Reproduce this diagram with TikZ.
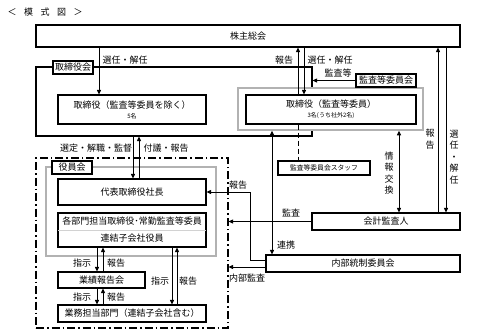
\documentclass[tikz,border=0pt]{standalone}
\usepackage{fontspec}
\setmainfont{Noto Sans CJK JP}
\usetikzlibrary{arrows.meta,calc}
\newcommand{\myfs}{\fontsize{9}{11}\selectfont}
\newcommand{\mysm}{\fontsize{6}{7}\selectfont}
\begin{document}
\begin{tikzpicture}[x=1pt,y=-1pt,
  box/.style={draw, line width=1.1pt, fill=white, inner sep=0pt, font=\myfs},
  gbox/.style={draw=gray!60, line width=1.5pt, fill=white, inner sep=0pt},
  lab/.style={inner sep=0.5pt, font=\myfs},
  vlab/.style={inner sep=0.5pt, align=center, font=\fontsize{9}{11.5}\selectfont},
  arr/.style={line width=0.9pt, -{Triangle[length=4.5pt,width=4pt]}},
  darr/.style={line width=0.9pt, {Triangle[length=4.5pt,width=4pt]}-{Triangle[length=4.5pt,width=4pt]}},
  ddash/.style={draw, line width=1.1pt, dash pattern=on 8pt off 3pt on 1.5pt off 3pt},
]
\useasboundingbox (0,0) rectangle (493,335);
\fill[white] (0,0) rectangle (493,335);

% x positions of connectors
\coordinate (xa) at (99,0);
\coordinate (xb) at (298,0);
\coordinate (xc) at (304,0);
\coordinate (xd) at (438,0);
\coordinate (xe) at (446,0);
\coordinate (xf) at (399,0);
\coordinate (xg) at (272,0);
\coordinate (xh) at (133,0);
\coordinate (xi) at (139,0);
\coordinate (xj) at (250,0);
\coordinate (xk) at (97,0);
\coordinate (xl) at (103,0);
\coordinate (xm) at (172,0);
\coordinate (xn) at (177,0);

\node[lab, anchor=west] (title) at (7,12) {＜\hspace{7.5pt}模\hspace{7.5pt}式\hspace{7.5pt}図\hspace{7.5pt}＞};

% top part
\node[box, minimum width=424pt, minimum height=22pt] (kabu) at (248,36) {株主総会};
\node[box, minimum width=276pt, minimum height=69pt] (trkai) at (174,101.5) {};
\node[gbox, minimum width=185pt, minimum height=42pt] (grayA) at (330.5,109) {};
\node[box, minimum width=40pt, minimum height=13pt] (trkaiL) at (73,67.5) {取締役会};
\node[box, minimum width=60pt, minimum height=13pt] (kansaL) at (386,80.5) {監査等委員会};
\node[box, align=center, minimum width=170pt, minimum height=29pt] (trA) at (331,109.5) {取締役（監査等委員）\\[-1pt]{\mysm 3名(うち社外2名)}};
\node[box, align=center, minimum width=148pt, minimum height=29pt] (trB) at (132,109.5) {取締役（監査等委員を除く）\\[-1pt]{\mysm 5名}};
\node[box, minimum width=92pt, minimum height=14pt, font=\fontsize{6.8}{8}\selectfont] (staff) at (324,168) {監査等委員会スタッフ};
\node[box, minimum width=148pt, minimum height=17pt] (kaikei) at (386,221.5) {会計監査人};
\node[box, minimum width=194pt, minimum height=17pt] (naibu) at (363,263.5) {内部統制委員会};

% lower-left part
\node[ddash, minimum width=192pt, minimum height=170pt, inner sep=0pt] (dbox) at (132,243) {};
\node[gbox, minimum width=170pt, minimum height=89pt] (yakuin) at (131,211.5) {};
\node[box, minimum width=40pt, minimum height=13pt] (yakuinL) at (72,167.5) {役員会};
\node[box, minimum width=148pt, minimum height=26pt] (daihyo) at (132,192) {代表取締役社長};
\node[box, minimum width=148pt, minimum height=34pt] (kakubu) at (132,230) {};
\draw[gray!35, line width=0.8pt] ([xshift=0.6pt]kakubu.west) -- ([xshift=-0.6pt]kakubu.east);
\node[lab] (kakubuA) at (132,221.5) {各部門担当取締役･常勤監査等委員};
\node[lab] (kakubuB) at (132,238.5) {連結子会社役員};
\node[box, minimum width=87pt, minimum height=16pt] (gyoseki) at (101.5,280) {業績報告会};
\node[box, minimum width=148pt, minimum height=17pt] (gyomu) at (132,313.5) {業務担当部門（連結子会社含む）};

% connectors
\draw[arr] (kabu.south -| xa) -- (trB.north -| xa);
\draw[arr] (trA.north -| xb) -- (kabu.south -| xb);
\draw[arr] (kabu.south -| xc) -- (trA.north -| xc);
\draw[arr] (kansaL.west) -- (kansaL.west -| trkai.east);
\draw[arr] (kaikei.north -| xd) -- (kabu.south -| xd);
\draw[arr] (kabu.south -| xe) -- (kaikei.north -| xe);
\draw[darr] (grayA.south -| xf) -- (kaikei.north -| xf);
\draw[line width=0.9pt, dashed, dash pattern=on 5pt off 3pt] (trA.south -| xb) -- (staff.north -| xb);
\draw[darr] (grayA.south -| xg) -- (naibu.north -| xg);
\draw[arr] (trkai.south -| xh) -- (daihyo.north -| xh);
\draw[arr] (daihyo.north -| xi) -- (trkai.south -| xi);
\draw[arr] ([yshift=3.5pt]naibu.west) -| (xj |- daihyo.east) -- (daihyo.east);
\draw[arr] (kaikei.west) -- (kaikei.west -| dbox.east);
\draw[arr] ([yshift=-3.5pt]naibu.west) -- ([yshift=-3.5pt]naibu.west -| dbox.east);
\draw[arr] (kakubu.south -| xk) -- (gyoseki.north -| xk);
\draw[arr] (gyoseki.north -| xl) -- (kakubu.south -| xl);
\draw[arr] (gyoseki.south -| xk) -- (gyomu.north -| xk);
\draw[arr] (gyomu.north -| xl) -- (gyoseki.south -| xl);
\draw[arr] (kakubu.south -| xm) -- (gyomu.north -| xm);
\draw[arr] (gyomu.north -| xn) -- (kakubu.south -| xn);

% labels
\node[lab] (l1) at (125,60) {選任・解任};
\node[lab] (l2) at (284,60) {報告};
\node[lab] (l3) at (330,60) {選任・解任};
\node[lab] (l4) at (338,73) {監査等};
\node[lab] (l5) at (96,148) {選定・解職・監督};
\node[lab] (l6) at (166,148) {付議・報告};
\node[lab] (l7) at (238,185) {報告};
\node[lab] (l8) at (291,213) {監査};
\node[lab] (l9) at (286,245) {連携};
\node[lab] (l10) at (247,278) {内部監査};
\node[lab] (l11) at (82,263) {指示};
\node[lab] (l12) at (116,263) {報告};
\node[lab] (l13) at (82,297) {指示};
\node[lab] (l14) at (116,297) {報告};
\node[lab] (l15) at (160,281) {指示};
\node[lab] (l16) at (188,281) {報告};
\node[vlab] (v1) at (389,173) {情\\報\\交\\換};
\node[vlab] (v2) at (430,139) {報\\告};
\node[vlab] (v3) at (454,157) {選\\任\\・\\解\\任};
\end{tikzpicture}
\end{document}
